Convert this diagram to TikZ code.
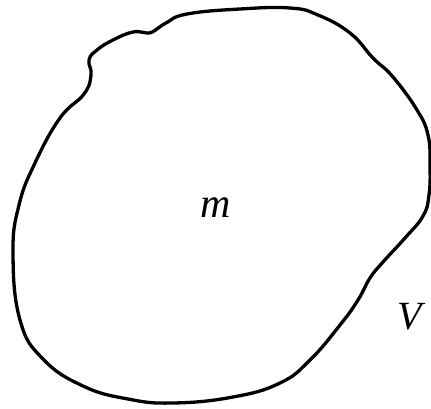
\documentclass[tikz,border=0pt]{standalone}
\usepackage{fontspec}
\setmainfont{Liberation Serif}
\begin{document}
\begin{tikzpicture}[x=1pt,y=-1pt,
  outline/.style={line width=3.3pt,line join=round},
  lbl/.style={font=\itshape,inner sep=0pt}]
\useasboundingbox (0,0) rectangle (431,408);
\draw[outline] plot[smooth cycle,tension=0.75] coordinates {
 (187,14) (240,9) (290,8) (318,15) (350,33) (373,58) (393,77)
 (417,110) (428,135) (430,165) (429,195) (423,216) (405,238)
 (383,262) (370,278) (358,300) (340,325) (310,360) (280,383)
 (233,397) (173,403) (128,399) (83,386) (43,359)
 (20,320) (13,253) (19,205) (35,163) (60,118) (84,94) (91,75)
 (89,60) (97,50) (113,40) (133,32) (147,33) (154,31) (166,23)};
\node[lbl,font=\itshape\fontsize{42}{42}\selectfont] (m) at (216,208) {m};
\node[lbl,font=\itshape\fontsize{40}{40}\selectfont] (V) at (410,317) {V};
\end{tikzpicture}
\end{document}
